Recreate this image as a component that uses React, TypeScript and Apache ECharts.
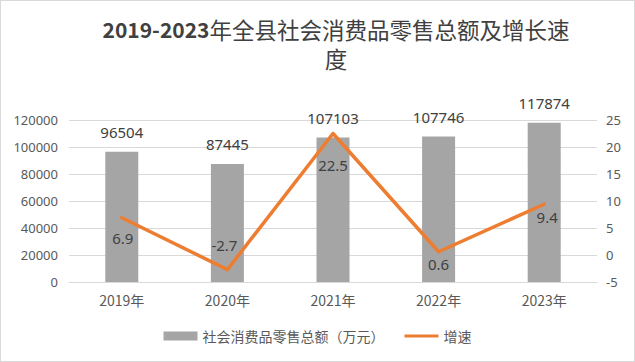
import React, { useEffect, useRef } from "react";
import * as echarts from "echarts";

const categories = ["2019年", "2020年", "2021年", "2022年", "2023年"];
const salesValues = [96504, 87445, 107103, 107746, 117874];
const growthValues = [6.9, -2.7, 22.5, 0.6, 9.4];
const leftTicks = [0, 20000, 40000, 60000, 80000, 100000, 120000];
const rightTicks = [-5, 0, 5, 10, 15, 20, 25];
const titleYears = "2019-2023";
const titleLine1 = "年全县社会消费品零售总额及增长速";
const titleLine2 = "度";

// label placement (styling only)
const lineLabelPos = ["bottom", "top", "bottom", "bottom", "bottom"];
const lineLabelDist = [12, 17, 23, 4, 5];
const lineLabelDx = [1, -3, 0, 0, 3];

export default function App() {
  const ref = useRef<HTMLDivElement>(null);
  useEffect(() => {
    document.body.style.margin = "0";
    const chart = echarts.init(ref.current!, null, { renderer: "svg" });
    const font = "'Noto Sans CJK SC', 'Noto Sans', sans-serif";
    chart.setOption({
      animation: false,
      backgroundColor: "#ffffff",
      textStyle: { fontFamily: font },
      title: {
        text: `{a|${titleYears}}{b|${titleLine1}}\n{b|${titleLine2}}`,
        left: 330,
        textAlign: "center",
        top: 8,
        textStyle: {
          fontFamily: font,
          fontSize: 22,
          color: "#404040",
          lineHeight: 29,
          rich: {
            a: { fontFamily: font, fontSize: 21, fontWeight: "bold", color: "#404040", lineHeight: 29 },
            b: { fontFamily: font, fontSize: 22.5, fontWeight: "normal", color: "#404040", lineHeight: 29 },
          },
        },
      },
      legend: {
        bottom: 13,
        left: "center",
        itemGap: 20,
        textStyle: { fontSize: 14, color: "#595959", fontFamily: font },
        data: [
          { name: "社会消费品零售总额（万元）", icon: "rect", itemStyle: { color: "#A5A5A5" } },
          { name: "增速", icon: "path://M0,0H36V3H0Z" },
        ],
        itemWidth: 34,
        itemHeight: 9,
      },
      grid: { left: 68, right: 37, top: 119, bottom: 79 },
      xAxis: {
        type: "category",
        data: categories,
        axisTick: { show: false },
        axisLine: { show: true, lineStyle: { color: "#D9D9D9" } },
        axisLabel: { color: "#595959", fontSize: 14, margin: 11 },
      },
      yAxis: [
        {
          type: "value",
          min: leftTicks[0],
          max: leftTicks[leftTicks.length - 1],
          interval: leftTicks[1] - leftTicks[0],
          axisLabel: {
            color: "#595959",
            fontSize: 13,
            margin: 11,
            fontFamily: "'Noto Sans', sans-serif",
            formatter: (v: number) => String(v),
          },
          splitLine: { lineStyle: { color: "#D9D9D9" } },
          axisLine: { show: false },
          axisTick: { show: false },
        },
        {
          type: "value",
          min: rightTicks[0],
          max: rightTicks[rightTicks.length - 1],
          interval: rightTicks[1] - rightTicks[0],
          axisLabel: {
            color: "#595959",
            fontSize: 13,
            margin: 9,
            fontFamily: "'Noto Sans', sans-serif",
          },
          splitLine: { show: false },
          axisLine: { show: false },
          axisTick: { show: false },
        },
      ],
      series: [
        {
          name: "社会消费品零售总额（万元）",
          type: "bar",
          barWidth: 33,
          itemStyle: { color: "#A5A5A5" },
          data: salesValues,
          label: {
            show: true,
            position: "top",
            distance: 12,
            color: "#404040",
            fontSize: 15,
            fontFamily: "'Noto Sans', sans-serif",
          },
          z: 2,
        },
        {
          name: "增速",
          type: "line",
          yAxisIndex: 1,
          symbol: "circle",
          symbolSize: 1,
          lineStyle: { color: "#ED7D31", width: 3.5, cap: "round", join: "round" },
          itemStyle: { color: "#ED7D31" },
          data: growthValues.map((v, i) => ({
            value: v,
            label: {
              show: true,
              position: lineLabelPos[i],
              distance: lineLabelDist[i],
              offset: [lineLabelDx[i], 0],
            },
          })),
          label: { color: "#404040", fontSize: 15, fontFamily: "'Noto Sans', sans-serif" },
          z: 3,
        },
      ],
    });
    return () => chart.dispose();
  }, []);
  return (
    <div
      style={{
        width: 635,
        height: 362,
        boxSizing: "border-box",
        border: "1px solid #D9D9D9",
      }}
    >
      <div ref={ref} style={{ width: 633, height: 360 }} />
    </div>
  );
}
